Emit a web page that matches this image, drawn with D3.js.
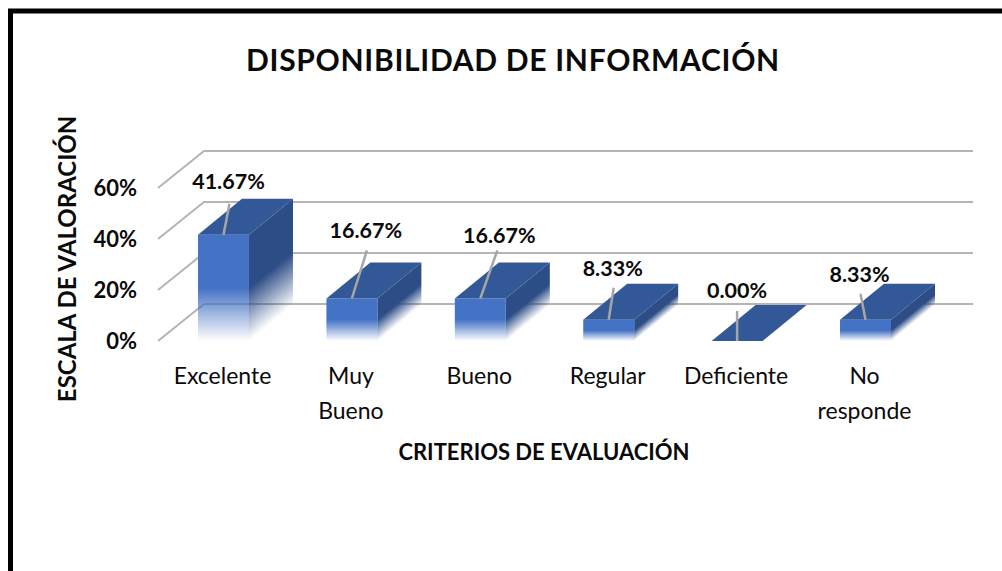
<!DOCTYPE html>
<html>
<head>
<meta charset="utf-8">
<style>
  html, body { margin: 0; padding: 0; background: #fff; overflow: hidden; }
  text { font-family: Lato, "Open Sans", sans-serif; fill: #0a0a0a; }
</style>
<script src="https://cdn.jsdelivr.net/npm/d3@7"></script>
</head>
<body>
<svg id="chart" width="1002" height="571"></svg>
<script>
const categories = ["Excelente", "Muy Bueno", "Bueno", "Regular", "Deficiente", "No responde"];
const values = [41.67, 16.67, 16.67, 8.33, 0, 8.33];
const valueLabels = ["41.67%", "16.67%", "16.67%", "8.33%", "0.00%", "8.33%"];
const yTicks = [0, 20, 40, 60];

// label placement relative to the top of each bar's front face
const labelDx = [5, 14, 19, 4, 0, -6];
const labelDy = [-46, -60, -55, -44, -43, -38];
const leaderDx = [6, 15, 17, 5, 0, -5];
const leaderDy = [-31, -48, -48, -32, -30, -26];

const svg = d3.select("#chart");

const x = d3.scaleBand().domain(categories).range([133.8, 955.2]).paddingInner(0.603).paddingOuter(0.5);
const y = d3.scaleLinear().domain([0, 60]).range([341, 188]);

const depthX = 44, depthY = 36;   // bar depth
const wallX = 46, wallY = 37;     // floor / wall depth
const gridRight = 973;

// frame
svg.append("path")
  .attr("d", "M10.5,571V11H1002")
  .attr("fill", "none")
  .attr("stroke", "#000")
  .attr("stroke-width", 5);

// grid
const wallLeft = 158;
const grid = svg.append("g").attr("fill", "none").attr("stroke", "#b4b4b4").attr("stroke-width", 2);
grid.selectAll("path")
  .data(yTicks)
  .join("path")
  .attr("d", d => `M${wallLeft},${y(d)}L${wallLeft + wallX},${y(d) - wallY}H${gridRight}`);

// axes
const yAxis = svg.append("g")
  .attr("transform", "translate(137,0)")
  .call(d3.axisLeft(y).tickValues(yTicks).tickSize(0).tickPadding(0).tickFormat(d => d + "%"));
yAxis.select(".domain").remove();
yAxis.selectAll("text")
  .style("font-family", "Lato")
  .style("font-size", "22px")
  .style("font-weight", 700)
  .attr("dy", "0.35em");

const xAxis = svg.append("g")
  .attr("transform", "translate(-1,384)")
  .call(d3.axisBottom(x).tickSize(0).tickPadding(0));
xAxis.select(".domain").remove();
xAxis.selectAll("text")
  .style("font-family", "Lato")
  .style("font-size", "23px")
  .attr("y", 0)
  .attr("dy", 0)
  .text(null)
  .selectAll("tspan")
  .data(d => d.split(" "))
  .join("tspan")
  .attr("x", 0)
  .attr("dy", (d, i) => i ? 35 : 0)
  .text(d => d);

// gradients, one pair per bar since the fade follows its height
const defs = svg.append("defs");
const fade = (sel, col) => {
  sel.append("stop").attr("offset", 0).attr("stop-color", col).attr("stop-opacity", 1);
  sel.append("stop").attr("offset", 1).attr("stop-color", col).attr("stop-opacity", 0);
};
const norm = Math.hypot(depthX, depthY);
const nx = depthY / norm, ny = depthX / norm;

categories.forEach((c, i) => {
  const left = x(c), right = left + x.bandwidth();
  const top = y(values[i]), bottom = y(0);
  const mid = (top + bottom) / 2;
  defs.append("linearGradient").attr("id", `front${i}`)
    .attr("gradientUnits", "userSpaceOnUse")
    .attr("x1", 0).attr("x2", 0).attr("y1", mid).attr("y2", bottom)
    .call(fade, "#4472c4");
  const span = (bottom - mid) * ny;
  defs.append("linearGradient").attr("id", `side${i}`)
    .attr("gradientUnits", "userSpaceOnUse")
    .attr("x1", right).attr("y1", mid)
    .attr("x2", right + nx * span).attr("y2", mid + ny * span)
    .call(fade, "#2d4d86");
});

// bars
const bars = svg.append("g").selectAll("g")
  .data(categories)
  .join("g");

bars.append("path")
  .attr("d", (d, i) => {
    const r = x(d) + x.bandwidth();
    return `M${r},${y(values[i])}l${depthX},${-depthY}V${y(0) - depthY}L${r},${y(0)}Z`;
  })
  .attr("fill", (d, i) => `url(#side${i})`);

bars.append("rect")
  .attr("x", d => x(d))
  .attr("y", (d, i) => y(values[i]))
  .attr("width", x.bandwidth())
  .attr("height", (d, i) => y(0) - y(values[i]))
  .attr("fill", (d, i) => `url(#front${i})`);

bars.append("path")
  .attr("d", (d, i) => {
    const l = x(d), top = y(values[i]);
    return `M${l},${top}l${depthX},${-depthY}h${x.bandwidth()}l${-depthX},${depthY}Z`;
  })
  .attr("fill", "#335898");

// leader lines and value labels
bars.append("line")
  .attr("x1", d => x(d) + x.bandwidth() / 2)
  .attr("y1", (d, i) => y(values[i]))
  .attr("x2", (d, i) => x(d) + x.bandwidth() / 2 + leaderDx[i])
  .attr("y2", (d, i) => y(values[i]) + leaderDy[i])
  .attr("stroke", "#a6a6a6")
  .attr("stroke-width", 2.5);

bars.append("text")
  .attr("x", (d, i) => x(d) + x.bandwidth() / 2 + labelDx[i])
  .attr("y", (d, i) => y(values[i]) + labelDy[i])
  .attr("text-anchor", "middle")
  .style("font-size", "21.5px")
  .style("font-weight", 700)
  .text((d, i) => valueLabels[i]);

// titles
svg.append("text")
  .attr("x", 513).attr("y", 71)
  .attr("text-anchor", "middle")
  .style("font-size", "30px")
  .style("font-weight", 700)
  .style("letter-spacing", "0.7px")
  .text("DISPONIBILIDAD DE INFORMACIÓN");

svg.append("text")
  .attr("x", 544).attr("y", 460)
  .attr("text-anchor", "middle")
  .style("font-size", "22px")
  .style("font-weight", 700)
  .text("CRITERIOS DE EVALUACIÓN");

svg.append("text")
  .attr("transform", "translate(76,259) rotate(-90)")
  .attr("text-anchor", "middle")
  .style("font-size", "24px")
  .style("font-weight", 700)
  .text("ESCALA DE VALORACIÓN");
</script>
</body>
</html>
